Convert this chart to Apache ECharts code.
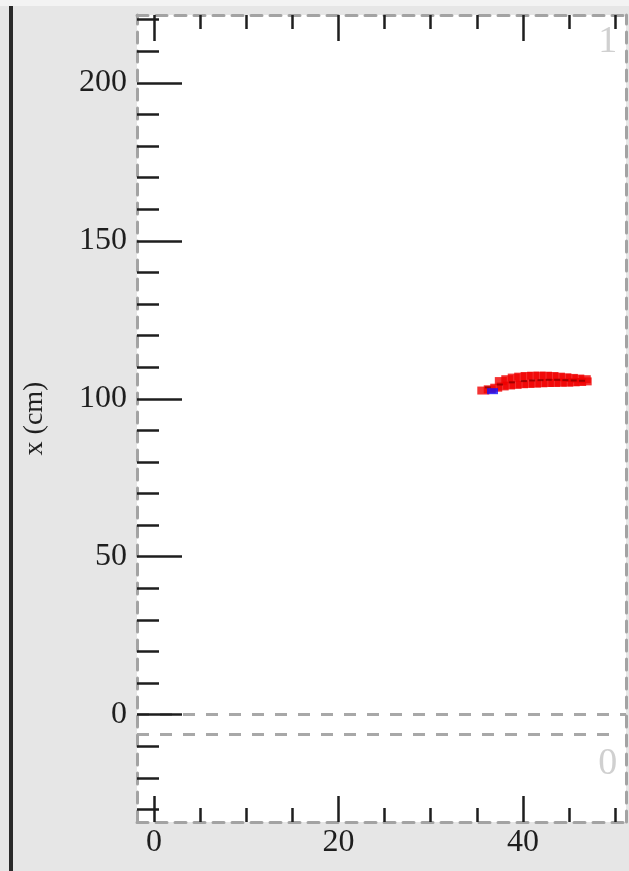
<!DOCTYPE html>
<html>
<head>
<meta charset="utf-8">
<script src="https://cdn.jsdelivr.net/npm/echarts@6/dist/echarts.min.js"></script>
<style>
html,body{margin:0;padding:0;background:#e6e6e6;}
#chart{width:629px;height:871px;}
</style>
</head>
<body>
<div id="chart"></div>
<script>
// ---- axis ranges & ticks ----
const X_RANGE = [-1.84, 51.17];
const Y_RANGE = [-34, 221.5];
const X_MAJOR = [0, 20, 40];
const X_MINOR = [0, 5, 10, 15, 20, 25, 30, 35, 40, 45, 50];
const Y_MAJOR = [0, 50, 100, 150, 200];
const Y_MINOR = [-30, -20, -10, 0, 10, 20, 30, 40, 50, 60, 70, 80, 90, 100, 110, 120, 130, 140, 150, 160, 170, 180, 190, 200, 210, 220];
const Y_NAME = 'x (cm)';

// ---- region boundaries & labels ----
const REGION1_LINE_X = [-1.84, 51.17];
const REGION1_LINE_Y = [0, 0];
const REGION0_LINE_X = [-1.84, 50.5];
const REGION0_LINE_Y = [-6.3, -6.3];
const REGION_LABELS = ['1', '0'];
const REGION_LABEL_X = [49.2, 49.2];
const REGION_LABEL_Y = [213, -15.5];

// ---- hits ----
const RED_LOW_X = [35.7, 36.4, 37.1, 37.8, 38.5, 39.2, 39.9, 40.6, 41.3, 42.0, 42.7, 43.4, 44.1, 44.8, 45.5, 46.2, 46.8];
const RED_LOW_Y = [102.6, 103.0, 103.5, 103.9, 104.2, 104.4, 104.6, 104.7, 104.8, 104.9, 105.0, 105.0, 105.1, 105.1, 105.2, 105.3, 105.5];
const RED_HIGH_X = [37.6, 38.3, 39.0, 39.7, 40.4, 41.1, 41.8, 42.5, 43.2, 43.9, 44.6, 45.3, 46.0, 46.7];
const RED_HIGH_Y = [105.6, 106.2, 106.7, 107.0, 107.2, 107.3, 107.3, 107.3, 107.2, 107.0, 106.8, 106.6, 106.4, 106.2];
const CORE_X = [36.2, 37.5, 38.8, 40.1, 41.0, 41.9, 42.8, 43.7, 44.6, 45.5, 46.4];
const CORE_Y = [103.6, 104.5, 105.2, 105.6, 105.8, 105.9, 106.0, 106.0, 105.9, 105.8, 105.7];
const BLUE_X = [36.7];
const BLUE_Y = [102.4];

const zip = (xs, ys) => xs.map((x, i) => [x, ys[i]]);

const SERIF = '"Liberation Serif","DejaVu Serif",serif';
const BORDER = {show: true, onZero: false, lineStyle: {color: '#a3a3a3', width: 3, type: [11, 8]}};
const NO_LINE = {show: false, onZero: false};
const TICK_COLOR = '#1e1e1e';

function xAxisDef(pos, values, len, showLine, labels) {
  return {
    type: 'value', position: pos, min: X_RANGE[0], max: X_RANGE[1], z: 3,
    axisLine: showLine ? BORDER : NO_LINE,
    splitLine: {show: false},
    axisTick: {show: true, inside: true, length: len, customValues: values,
      lineStyle: {color: TICK_COLOR, width: 2.5}},
    axisLabel: labels ? {show: true, customValues: labels, fontFamily: SERIF, fontSize: 32,
      color: '#1e1e1e', margin: 5} : {show: false}
  };
}
function yAxisDef(pos, values, len, showLine, labels, name) {
  const a = {
    type: 'value', position: pos, min: Y_RANGE[0], max: Y_RANGE[1], z: 3,
    axisLine: showLine ? BORDER : NO_LINE,
    splitLine: {show: false},
    axisTick: values ? {show: true, inside: true, length: len, customValues: values,
      lineStyle: {color: TICK_COLOR, width: 2.5}} : {show: false},
    axisLabel: labels ? {show: true, customValues: labels, fontFamily: SERIF, fontSize: 32,
      color: '#1e1e1e', margin: 10} : {show: false}
  };
  if (name) {
    a.name = name; a.nameLocation = 'middle'; a.nameGap = 88;
    a.nameTextStyle = {fontFamily: SERIF, fontSize: 28, color: '#1e1e1e'};
  }
  return a;
}

const chart = echarts.init(document.getElementById('chart'), null, {renderer: 'canvas'});
chart.setOption({
  backgroundColor: '#e6e6e6',
  animation: false,
  grid: {left: 137, right: 3, top: 15, bottom: 49, show: true, backgroundColor: '#ffffff', borderWidth: 0},
  graphic: [
    {type: 'rect', shape: {x: 0, y: 0, width: 629, height: 6}, style: {fill: '#f3f3f3'}, silent: true},
    {type: 'line', shape: {x1: 11, y1: 6, x2: 11, y2: 871}, style: {stroke: '#2a2a2a', lineWidth: 4}, silent: true}
  ],
  xAxis: [
    xAxisDef('bottom', X_MAJOR, 26, true, X_MAJOR),
    xAxisDef('bottom', X_MINOR, 14, false, null),
    xAxisDef('top', X_MAJOR, 26, true, null),
    xAxisDef('top', X_MINOR, 14, false, null)
  ],
  yAxis: [
    yAxisDef('left', Y_MAJOR, 45, true, Y_MAJOR, Y_NAME),
    yAxisDef('left', Y_MINOR, 22, false, null, null),
    yAxisDef('right', null, 0, true, null, null)
  ],
  series: [
    {type: 'line', data: zip(REGION1_LINE_X, REGION1_LINE_Y), symbol: 'none', silent: true,
      lineStyle: {color: '#a8a8a8', width: 3, type: [12, 11]}, z: 1},
    {type: 'line', data: zip(REGION0_LINE_X, REGION0_LINE_Y), symbol: 'none', silent: true,
      lineStyle: {color: '#a8a8a8', width: 3, type: [12, 11]}, z: 1},
    {type: 'scatter', data: REGION_LABEL_X.map((x, i) => ({value: [x, REGION_LABEL_Y[i]], name: REGION_LABELS[i]})),
      symbolSize: 0, silent: true,
      label: {show: true, position: 'inside', formatter: p => p.name, fontFamily: SERIF, fontSize: 38, color: '#c4c4c4'}},
    {type: 'scatter', data: zip(RED_LOW_X, RED_LOW_Y), symbol: 'rect', symbolSize: [12, 8],
      itemStyle: {color: '#f00000'}, z: 4},
    {type: 'scatter', data: zip(RED_HIGH_X, RED_HIGH_Y), symbol: 'rect', symbolSize: [12, 8],
      itemStyle: {color: '#f00000'}, z: 4},
    {type: 'scatter', data: zip(CORE_X, CORE_Y), symbol: 'rect', symbolSize: [6, 2],
      itemStyle: {color: '#8a0000'}, z: 5},
    {type: 'scatter', data: zip(BLUE_X, BLUE_Y), symbol: 'rect', symbolSize: [11, 6],
      itemStyle: {color: '#1010ff'}, z: 6}
  ]
});
</script>
</body>
</html>
